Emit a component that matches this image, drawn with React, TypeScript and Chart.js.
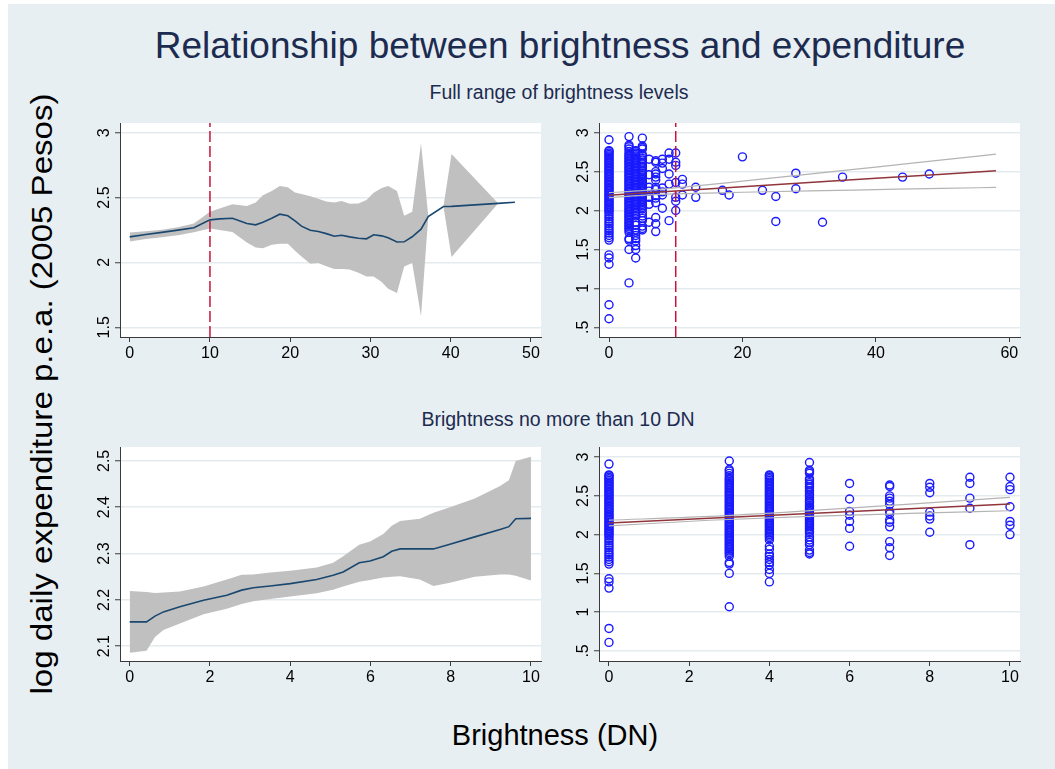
import { useEffect, useRef } from "react";
import { Chart, registerables } from "chart.js";

Chart.register(...registerables);

const FONT = '"Liberation Sans", Arial, Helvetica, sans-serif';
const NAVY = "#1a476f";
const BAND = "#c0c0c0";
const CUT = "#c8143c";
const DOT = "#1a1aff";
const FIT = "#90353b";
const CI = "#b4b4b4";
const AXIS = "#3a3a3a";
const GRID = "#e3ebee";
const TITLE = "#1c2b50";

const brightnessCutoff = 10;

// Local polynomial smooth with 95% band, full brightness range
const fullGridX = [0, 2, 4, 6, 8, 10, 11.2, 12.8, 14.6, 15.7, 16.6, 17.7, 18.7, 19.7, 20.6, 21.4, 22.5, 23.5, 24.5, 25.5, 26.4, 27.4, 28.5, 29.5, 30.4, 31.4, 32.2, 33.3, 34.2, 35.2, 36.3, 37.2, 39.1, 40.1, 45.9, 48];
const fullMid = [2.197, 2.215, 2.232, 2.249, 2.267, 2.328, 2.336, 2.341, 2.3, 2.29, 2.31, 2.34, 2.372, 2.36, 2.32, 2.28, 2.248, 2.238, 2.222, 2.202, 2.21, 2.197, 2.186, 2.182, 2.213, 2.205, 2.19, 2.157, 2.159, 2.198, 2.256, 2.354, 2.431, 2.432, 2.455, 2.464];
const fullUpper = [2.231, 2.24, 2.252, 2.272, 2.3, 2.39, 2.415, 2.449, 2.436, 2.462, 2.518, 2.55, 2.59, 2.58, 2.54, 2.528, 2.51, 2.49, 2.47, 2.462, 2.474, 2.452, 2.454, 2.482, 2.538, 2.574, 2.59, 2.551, 2.36, 2.39, 2.918, 2.36, 2.433, 2.836, 2.456, null];
const fullLower = [2.162, 2.18, 2.195, 2.21, 2.232, 2.262, 2.25, 2.234, 2.154, 2.115, 2.11, 2.136, 2.144, 2.144, 2.09, 2.046, 1.99, 1.995, 1.97, 1.949, 1.95, 1.945, 1.92, 1.892, 1.892, 1.85, 1.797, 1.764, 1.969, 1.995, 1.585, 2.35, 2.429, 2.041, 2.454, null];

// Local polynomial smooth with 95% band, brightness 0-10 DN
const lowGridX = [0, 0.42, 0.63, 0.84, 1.25, 1.84, 2.42, 2.79, 3.08, 3.5, 4.0, 4.66, 5.07, 5.32, 5.72, 5.99, 6.32, 6.53, 6.74, 7.23, 7.57, 7.98, 8.6, 9.23, 9.45, 9.62, 10];
const lowMid = [2.1525, 2.1525, 2.165, 2.174, 2.185, 2.199, 2.21, 2.221, 2.226, 2.23, 2.235, 2.244, 2.253, 2.26, 2.28, 2.284, 2.293, 2.305, 2.31, 2.31, 2.31, 2.32, 2.336, 2.352, 2.358, 2.375, 2.376];
const lowUpper = [2.219, 2.217, 2.215, 2.216, 2.218, 2.229, 2.244, 2.254, 2.255, 2.259, 2.263, 2.27, 2.28, 2.294, 2.319, 2.326, 2.342, 2.36, 2.37, 2.375, 2.388, 2.4, 2.419, 2.446, 2.458, 2.5, 2.509];
const lowLower = [2.086, 2.09, 2.12, 2.135, 2.149, 2.169, 2.181, 2.191, 2.197, 2.202, 2.207, 2.214, 2.222, 2.229, 2.239, 2.243, 2.248, 2.25, 2.251, 2.244, 2.23, 2.237, 2.25, 2.255, 2.255, 2.252, 2.242];

// Household log expenditure by brightness level (DN)
const expAtZero = [2.91, 2.77, 2.76, 2.74, 2.72, 2.7, 2.68, 2.66, 2.64, 2.62, 2.6, 2.58, 2.56, 2.54, 2.52, 2.5, 2.48, 2.46, 2.44, 2.42, 2.4, 2.38, 2.36, 2.34, 2.32, 2.3, 2.28, 2.26, 2.24, 2.22, 2.2, 2.18, 2.16, 2.14, 2.12, 2.1, 2.08, 2.06, 2.04, 2.02, 2.0, 1.98, 1.95, 1.92, 1.89, 1.86, 1.83, 1.8, 1.77, 1.74, 1.71, 1.68, 1.65, 1.62, 1.43, 1.39, 1.31, 0.79, 0.61];
const expAtThree = [2.95, 2.84, 2.82, 2.79, 2.76, 2.73, 2.71, 2.69, 2.67, 2.65, 2.63, 2.61, 2.59, 2.57, 2.55, 2.53, 2.51, 2.49, 2.47, 2.45, 2.43, 2.41, 2.39, 2.37, 2.35, 2.33, 2.31, 2.29, 2.27, 2.25, 2.23, 2.21, 2.19, 2.17, 2.15, 2.13, 2.11, 2.09, 2.07, 2.05, 2.03, 2.01, 1.99, 1.97, 1.95, 1.93, 1.91, 1.89, 1.87, 1.85, 1.83, 1.81, 1.79, 1.77, 1.75, 1.72, 1.64, 1.62, 1.5, 1.07];
const expAtFour = [2.77, 2.76, 2.74, 2.72, 2.7, 2.68, 2.66, 2.64, 2.62, 2.6, 2.58, 2.56, 2.54, 2.52, 2.5, 2.48, 2.46, 2.44, 2.42, 2.4, 2.38, 2.36, 2.34, 2.32, 2.3, 2.28, 2.26, 2.24, 2.22, 2.2, 2.18, 2.16, 2.14, 2.12, 2.1, 2.08, 2.06, 2.04, 2.02, 2.0, 1.98, 1.96, 1.93, 1.85, 1.81, 1.75, 1.72, 1.68, 1.64, 1.61, 1.55, 1.5, 1.39];
const expAtFive = [2.93, 2.83, 2.81, 2.79, 2.72, 2.7, 2.67, 2.65, 2.62, 2.6, 2.57, 2.55, 2.52, 2.5, 2.48, 2.45, 2.43, 2.41, 2.38, 2.36, 2.34, 2.32, 2.3, 2.28, 2.26, 2.24, 2.22, 2.2, 2.18, 2.16, 2.14, 2.12, 2.1, 2.08, 2.06, 2.04, 2.02, 1.97, 1.93, 1.9, 1.87, 1.8, 1.77, 1.75];
const expAtSix = [2.66, 2.46, 2.3, 2.25, 2.17, 2.08, 1.85];
const expAtSeven = [2.64, 2.62, 2.5, 2.47, 2.43, 2.39, 2.3, 2.27, 2.19, 2.16, 2.1, 1.91, 1.83, 1.73];
const expAtEight = [2.66, 2.61, 2.54, 2.29, 2.24, 2.2, 2.03];
const expAtNine = [2.74, 2.66, 2.47, 2.34, 1.87];
const expAtTen = [2.74, 2.62, 2.58, 2.36, 2.17, 2.12, 2.0];
const lowLevels = [0, 3, 4, 5, 6, 7, 8, 9, 10];
const lowColumns = [expAtZero, expAtThree, expAtFour, expAtFive, expAtSix, expAtSeven, expAtEight, expAtNine, expAtTen];

// Brighter areas (above 10 DN)
const brightHigh = [11, 11, 11, 13, 13, 17, 18, 20, 23, 25, 25, 28, 28, 32, 35, 44, 48];
const expHigh = [2.4, 2.34, 2.2, 2.3, 2.17, 2.26, 2.2, 2.69, 2.26, 2.18, 1.86, 2.48, 2.28, 1.85, 2.43, 2.43, 2.47];

// Linear fit with 95% confidence limits
const fullFitX = [0, 5, 10, 20, 30, 40, 50, 58];
const fullFit = [2.198, 2.225, 2.252, 2.306, 2.36, 2.414, 2.468, 2.511];
const fullFitUpper = [2.231, 2.255, 2.291, 2.377, 2.467, 2.559, 2.651, 2.725];
const fullFitLower = [2.165, 2.195, 2.213, 2.235, 2.253, 2.269, 2.285, 2.297];
const lowFitX = [0, 2.5, 5, 7.5, 10];
const lowFit = [2.149, 2.21, 2.272, 2.333, 2.394];
const lowFitUpper = [2.186, 2.235, 2.309, 2.393, 2.48];
const lowFitLower = [2.112, 2.185, 2.235, 2.273, 2.308];

// Axis ticks
const fullXTicks = [0, 10, 20, 30, 40, 50];
const fullYTicks = [1.5, 2, 2.5, 3];
const scatterFullXTicks = [0, 20, 40, 60];
const scatterYTicks = [0.5, 1, 1.5, 2, 2.5, 3];
const lowXTicks = [0, 2, 4, 6, 8, 10];
const lowYTicks = [2.1, 2.2, 2.3, 2.4, 2.5];

const pts = (xs: number[], ys: (number | null)[]) =>
  xs.map((x, i) => ({ x, y: ys[i] })).filter((p) => p.y !== null) as { x: number; y: number }[];

const lowScatter = lowLevels.flatMap((lv, i) => lowColumns[i].map((y) => ({ x: lv, y })));
const highScatter = brightHigh.map((x, i) => ({ x, y: expHigh[i] }));

const fmt = (v: number) => {
  let s = String(Math.round(v * 100) / 100);
  if (s.startsWith("0.")) s = s.slice(1);
  return s;
};

const TICK_FONT = 16;

const plotBg = {
  id: "plotBg",
  beforeDraw(chart: any) {
    const { ctx, chartArea } = chart;
    ctx.save();
    ctx.fillStyle = "#ffffff";
    ctx.fillRect(chartArea.left, chartArea.top, chartArea.right - chartArea.left, chartArea.bottom - chartArea.top);
    ctx.restore();
  },
};

const yRotLabels = {
  id: "yRotLabels",
  afterDraw(chart: any) {
    const s = chart.scales.y;
    const ctx = chart.ctx;
    ctx.save();
    ctx.fillStyle = "#000";
    ctx.font = `${TICK_FONT}px ${FONT}`;
    ctx.textAlign = "center";
    ctx.textBaseline = "middle";
    s.ticks.forEach((t: any) => {
      const py = s.getPixelForValue(t.value);
      ctx.save();
      ctx.translate(chart.chartArea.left - 15, py);
      ctx.rotate(-Math.PI / 2);
      ctx.fillText(fmt(t.value), 0, 0);
      ctx.restore();
    });
    ctx.restore();
  },
};

function xScale(min: number, max: number, ticks: number[]) {
  return {
    type: "linear",
    min,
    max,
    afterBuildTicks: (s: any) => {
      s.ticks = ticks.map((v) => ({ value: v }));
    },
    afterFit: (s: any) => {
      s.height = 38;
    },
    grid: { drawOnChartArea: false, drawTicks: true, tickLength: 5, tickColor: AXIS, tickWidth: 1 },
    border: { display: true, color: AXIS, width: 1 },
    ticks: {
      color: "#000",
      font: { family: FONT, size: TICK_FONT },
      padding: 2,
      maxRotation: 0,
      autoSkip: false,
      callback: (v: any) => fmt(Number(v)),
    },
  };
}

function yScale(min: number, max: number, ticks: number[], width: number) {
  return {
    type: "linear",
    min,
    max,
    afterBuildTicks: (s: any) => {
      s.ticks = ticks.map((v) => ({ value: v }));
    },
    afterFit: (s: any) => {
      s.width = width;
    },
    grid: { color: GRID, lineWidth: 1.5, drawTicks: true, tickLength: 5, tickColor: AXIS, tickWidth: 1 },
    border: { display: true, color: AXIS, width: 1 },
    ticks: { display: false },
  };
}

const cutoffLine = (yMin: number, yMax: number) => ({
  type: "line",
  data: [
    { x: brightnessCutoff, y: yMin },
    { x: brightnessCutoff, y: yMax },
  ],
  borderColor: CUT,
  borderWidth: 1.5,
  borderDash: [11, 4],
  pointRadius: 0,
  fill: false,
});

const smoothSets = (xs: number[], mid: number[], up: (number | null)[], lo: (number | null)[]) => [
  {
    type: "line",
    data: pts(xs, mid),
    borderColor: NAVY,
    borderWidth: 1.6,
    pointRadius: 0,
    fill: false,
  },
  {
    type: "line",
    data: pts(xs, up),
    borderColor: "rgba(0,0,0,0)",
    borderWidth: 0,
    backgroundColor: BAND,
    pointRadius: 0,
    fill: "+1",
  },
  {
    type: "line",
    data: pts(xs, lo),
    borderColor: "rgba(0,0,0,0)",
    borderWidth: 0,
    pointRadius: 0,
    fill: false,
  },
];

const fitSets = (xs: number[], fit: number[], up: number[], lo: number[]) => [
  { type: "line", data: pts(xs, fit), borderColor: FIT, borderWidth: 1.5, pointRadius: 0, fill: false },
  { type: "line", data: pts(xs, up), borderColor: CI, borderWidth: 1.2, pointRadius: 0, fill: false, tension: 0.3, cubicInterpolationMode: "monotone" },
  { type: "line", data: pts(xs, lo), borderColor: CI, borderWidth: 1.2, pointRadius: 0, fill: false, tension: 0.3, cubicInterpolationMode: "monotone" },
];

const scatterSet = (data: { x: number; y: number }[]) => ({
  type: "scatter",
  data,
  pointStyle: "circle",
  pointRadius: 4,
  borderColor: DOT,
  backgroundColor: "rgba(0,0,0,0)",
  borderWidth: 1.4,
  showLine: false,
});

function baseOptions(pad: { top: number; right: number }, x: any, y: any) {
  return {
    responsive: false,
    animation: false,
    devicePixelRatio: 1,
    events: [],
    layout: { padding: { top: pad.top, right: pad.right, left: 0, bottom: 0 } },
    plugins: { legend: { display: false }, tooltip: { enabled: false } },
    scales: { x, y },
  };
}

type PanelProps = { left: number; top: number; width: number; height: number; make: () => any };

function Panel({ left, top, width, height, make }: PanelProps) {
  const ref = useRef<HTMLCanvasElement | null>(null);
  useEffect(() => {
    if (!ref.current) return;
    const chart = new Chart(ref.current, make());
    return () => chart.destroy();
  }, []);
  return (
    <canvas
      ref={ref}
      width={width}
      height={height}
      style={{ position: "absolute", left, top, width, height }}
    />
  );
}

const topLeft = () => ({
  type: "line",
  data: { datasets: [cutoffLine(1.425, 3.075), ...smoothSets(fullGridX, fullMid, fullUpper, fullLower)] },
  options: baseOptions({ top: 10, right: 9 }, xScale(-1.21, 51.25, fullXTicks), yScale(1.425, 3.075, fullYTicks, 50)),
  plugins: [plotBg, yRotLabels],
});

const topRight = () => ({
  type: "line",
  data: {
    datasets: [
      cutoffLine(0.375, 3.125),
      ...fitSets(fullFitX, fullFit, fullFitUpper, fullFitLower),
      scatterSet([...lowScatter, ...highScatter]),
    ],
  },
  options: baseOptions({ top: 10, right: 10 }, xScale(-1.5, 61.6, scatterFullXTicks), yScale(0.375, 3.125, scatterYTicks, 49)),
  plugins: [plotBg, yRotLabels],
});

const bottomLeft = () => ({
  type: "line",
  data: { datasets: smoothSets(lowGridX, lowMid, lowUpper, lowLower) },
  options: baseOptions({ top: 10, right: 9 }, xScale(-0.242, 10.25, lowXTicks), yScale(2.068, 2.53, lowYTicks, 50)),
  plugins: [plotBg, yRotLabels],
});

const bottomRight = () => ({
  type: "line",
  data: {
    datasets: [...fitSets(lowFitX, lowFit, lowFitUpper, lowFitLower), scatterSet(lowScatter)],
  },
  options: baseOptions({ top: 10, right: 10 }, xScale(-0.249, 10.25, lowXTicks), yScale(0.37, 3.13, scatterYTicks, 49)),
  plugins: [plotBg, yRotLabels],
});

const centered = (cx: number, cy: number, size: number, color: string, extra = ""): any => ({
  position: "absolute",
  left: cx,
  top: cy,
  transform: `translate(-50%, -50%)${extra}`,
  fontFamily: FONT,
  fontSize: size,
  color,
  whiteSpace: "nowrap",
  lineHeight: 1,
});

export default function App() {
  return (
    <div style={{ position: "absolute", left: 0, top: 0, width: 1055, height: 769, background: "#ffffff", overflow: "hidden" }}>
      <div style={{ position: "absolute", left: 8, top: 4, width: 1047, height: 765, background: "#e8eff2" }} />
      <div style={centered(560, 45, 37, TITLE)}>Relationship between brightness and expenditure</div>
      <div style={centered(559, 93, 19.5, TITLE)}>Full range of brightness levels</div>
      <div style={centered(558, 420, 19.5, TITLE)}>Brightness no more than 10 DN</div>
      <div style={centered(42, 394, 29, "#000", " rotate(-90deg) scaleX(1.14)")}>log daily expenditure p.e.a. (2005 Pesos)</div>
      <div style={centered(555, 735, 29, "#000")}>Brightness (DN)</div>
      <Panel left={70} top={113} width={480} height={262} make={topLeft} />
      <Panel left={550} top={113} width={480} height={262} make={topRight} />
      <Panel left={70} top={437} width={480} height={262} make={bottomLeft} />
      <Panel left={550} top={437} width={480} height={262} make={bottomRight} />
    </div>
  );
}
